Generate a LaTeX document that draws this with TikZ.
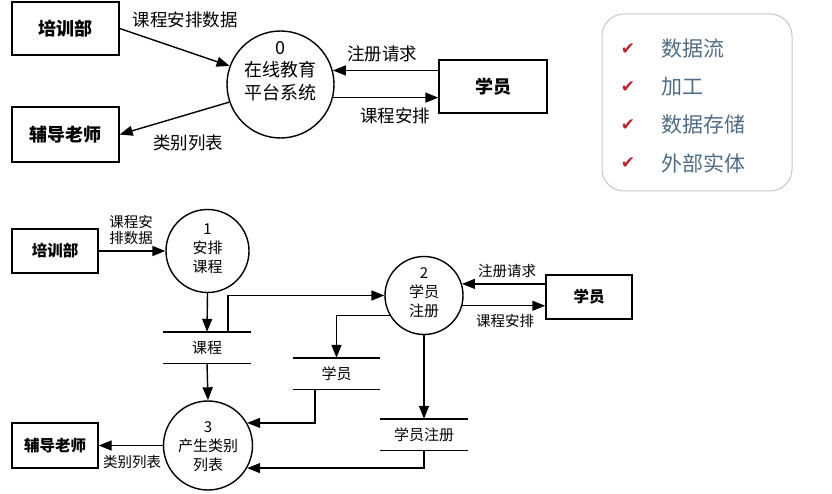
\documentclass[tikz,border=0pt]{standalone}
\usepackage{fontspec}
\setmainfont{Noto Sans CJK SC}
\newfontfamily\symfont{DejaVu Sans}
\usetikzlibrary{arrows.meta}
\definecolor{chk}{RGB}{185,35,50}
\definecolor{lgd}{RGB}{80,108,132}
\begin{document}
\begin{tikzpicture}[x=1pt,y=-1pt,
  ent/.style={draw,line width=1.4pt,rectangle,inner sep=0pt,font=\fontsize{18}{20}\selectfont\bfseries},
  sent/.style={ent,font=\fontsize{15.5}{18}\selectfont\bfseries},
  proc/.style={draw,circle,line width=1.4pt,inner sep=0pt},
  store/.style={rectangle,inner sep=0pt,minimum height=31pt,minimum width=88pt,font=\fontsize{15}{18}\selectfont},
  arr/.style={line width=1.4pt,-{Triangle[length=13pt,width=10pt]}},
  lbl/.style={inner sep=0pt,font=\fontsize{17.5}{20}\selectfont},
  slbl/.style={inner sep=0pt,font=\fontsize{14.5}{16}\selectfont,align=center},
  ptxt/.style={inner sep=0pt,align=center,font=\fontsize{15}{19}\selectfont},
]
\useasboundingbox (0,0) rectangle (832,494);
% ---------- top diagram
\node[ent,minimum width=107pt,minimum height=53pt] (tA) at (65.5,28.5) {培训部};
\node[ent,minimum width=107pt,minimum height=55pt] (tB) at (65.5,134.5) {辅导老师};
\node[ent,minimum width=108pt,minimum height=53pt] (tC) at (493,86.5) {学员};
\node[proc,minimum size=107pt] (c0) at (280.5,84.5) {};
\node[inner sep=0pt,align=center,font=\fontsize{18}{22.5}\selectfont] (c0t) at (280.5,71) {0\\在线教育\\平台系统};
\draw[arr] (tA.east) -- (c0.160);
\draw[arr] (c0.199) -- (tB.east);
\draw[arr] (tC.west |- c0.15) -- (c0.15);
\draw[arr] (c0.-14) -- (c0.-14 -| tC.west);
\node[lbl] (l1) at (185,20) {课程安排数据};
\node[lbl] (l2) at (188,143) {类别列表};
\node[lbl] (l3) at (382,54) {注册请求};
\node[lbl] (l4) at (395,116) {课程安排};
% ---------- legend
\node[draw=gray!45,line width=1pt,rounded corners=22pt,minimum width=190pt,minimum height=177pt] (lg) at (697,102.5) {};
\foreach \y/\t [count=\i] in {49/数据流,87/加工,125/数据存储,163/外部实体} {
  \node[text=chk,inner sep=0pt,font=\symfont\fontsize{17}{17}\selectfont] (k\i) at (628,\y) {✔};
  \node[anchor=west,text=lgd,font=\fontsize{21}{22}\selectfont,inner sep=0pt] (g\i) at (661,\y) {\t};
}
% ---------- bottom diagram
\node[sent,minimum width=86pt,minimum height=44pt] (bA) at (55,251) {培训部};
\node[sent,minimum width=86pt,minimum height=45pt] (bB) at (55,445.5) {辅导老师};
\node[sent,minimum width=86pt,minimum height=44pt] (bC) at (589,297) {学员};
\node[proc,minimum size=83pt] (c1) at (207.5,251) {};
\node[ptxt] (c1t) at (207.5,249) {1\\安排\\课程};
\node[proc,minimum size=78pt] (c2) at (424,295.5) {};
\node[ptxt] (c2t) at (424,292.5) {2\\学员\\注册};
\node[proc,minimum size=89pt] (c3) at (208,445.5) {};
\node[ptxt] (c3t) at (208,447) {3\\产生类别\\列表};
\node[store] (s1) at (207,347.5) {课程};
\node[store,minimum width=87pt] (s2) at (336.5,373.5) {学员};
\node[store] (s3) at (424,434.5) {学员注册};
\foreach \s in {s1,s2,s3}
  \draw[line width=1.4pt] (\s.north west) -- (\s.north east) (\s.south west) -- (\s.south east);
\draw[arr] (bA.east) -- (c1.west);
\draw[arr] (c1.south) -- (s1.north);
\draw[arr] (s1.south) -- (c3.north);
\draw[arr] ([xshift=21pt]s1.north) |- (c2.west);
\draw[arr] (c2.210) -| (s2.north);
\draw[arr] ([xshift=-21.5pt]s2.south) |- (c3.30);
\draw[arr] (c2.south) -- (s3.north);
\draw[arr] (s3.south) |- (c3.-30);
\draw[arr] (c3.west) -- (bB.east);
\draw[arr] (bC.west |- c2.17) -- (c2.17);
\draw[arr] (c2.-15) -- (c2.-15 -| bC.west);
\node[slbl] (m1) at (131,230) {课程安\\排数据};
\node[slbl] (m2) at (132,462) {类别列表};
\node[slbl] (m3) at (507,271) {注册请求};
\node[slbl] (m4) at (505,321) {课程安排};
\end{tikzpicture}
\end{document}
